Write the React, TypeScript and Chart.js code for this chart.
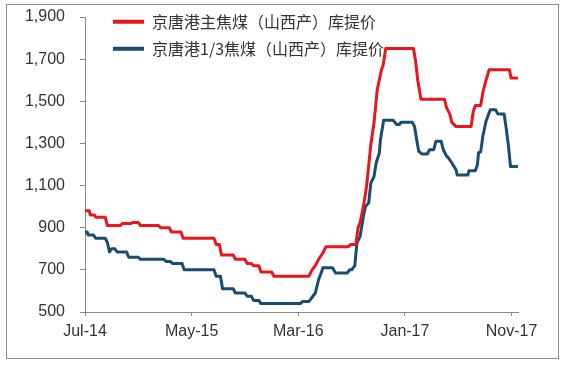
import React, { useEffect, useRef } from 'react';
import { Chart, registerables } from 'chart.js';

Chart.register(...registerables);

// x = months since Jul-2014
const seriesNames = ['京唐港主焦煤（山西产）库提价', '京唐港1/3焦煤（山西产）库提价'];

const redMonths = [0.0, 0.4, 0.5, 0.9, 1.0, 1.9, 2.1, 3.3, 3.5, 4.3, 4.5, 5.0, 5.2, 6.9, 7.1, 7.9, 8.1, 9.0, 9.2, 12.1, 12.3, 12.6, 12.8, 13.9, 14.1, 15.0, 15.2, 15.6, 15.8, 16.3, 16.5, 17.5, 17.7, 21.0, 21.3, 21.6, 21.9, 22.3, 22.6, 24.7, 24.9, 25.4, 25.6, 25.8, 26.1, 26.4, 26.8, 27.1, 27.4, 27.8, 27.95, 28.2, 30.8, 31.0, 31.2, 31.5, 33.7, 33.9, 34.2, 34.4, 34.8, 36.2, 36.4, 36.6, 37.1, 37.3, 37.6, 37.9, 39.8, 39.95, 40.5];
const redValues = [980, 980, 960, 960, 950, 950, 910, 910, 920, 920, 925, 925, 910, 910, 900, 900, 880, 880, 850, 850, 820, 820, 770, 770, 750, 750, 730, 730, 720, 720, 690, 690, 670, 670, 700, 720, 750, 780, 810, 810, 820, 820, 900, 925, 1000, 1096, 1294, 1398, 1555, 1650, 1670, 1750, 1750, 1690, 1600, 1510, 1510, 1470, 1440, 1400, 1380, 1380, 1450, 1480, 1480, 1540, 1600, 1650, 1650, 1610, 1610];

const blueMonths = [0.0, 0.2, 0.3, 0.8, 1.0, 1.9, 2.1, 2.3, 2.5, 2.8, 3.0, 3.9, 4.1, 5.0, 5.2, 7.4, 7.6, 8.0, 8.2, 9.1, 9.3, 12.1, 12.3, 12.7, 12.9, 13.9, 14.1, 15.0, 15.2, 15.6, 15.8, 16.3, 16.5, 20.2, 20.4, 21.0, 21.3, 21.6, 21.9, 22.2, 22.3, 23.2, 23.5, 24.6, 24.8, 25.0, 25.3, 25.5, 25.8, 26.1, 26.3, 26.6, 26.8, 27.1, 27.3, 27.6, 27.7, 28.0, 28.9, 29.2, 29.5, 29.6, 30.7, 30.9, 31.1, 31.3, 31.6, 32.1, 32.3, 32.7, 32.9, 33.4, 33.6, 33.9, 34.1, 34.4, 34.8, 34.9, 35.9, 36.0, 36.6, 36.8, 36.9, 37.1, 37.3, 37.6, 38.0, 38.5, 38.7, 39.3, 39.5, 39.7, 39.9, 40.5];
const blueValues = [880, 880, 865, 865, 850, 850, 830, 785, 800, 800, 785, 785, 760, 760, 750, 750, 740, 740, 730, 730, 700, 700, 670, 670, 610, 610, 590, 590, 575, 575, 555, 555, 540, 540, 550, 550, 570, 591, 653, 693, 710, 710, 685, 685, 700, 700, 720, 829, 859, 954, 1000, 1018, 1112, 1143, 1207, 1255, 1318, 1410, 1410, 1390, 1390, 1400, 1400, 1380, 1318, 1262, 1250, 1250, 1270, 1270, 1310, 1310, 1270, 1240, 1230, 1207, 1174, 1150, 1150, 1170, 1170, 1200, 1256, 1260, 1333, 1405, 1460, 1460, 1440, 1440, 1370, 1290, 1190, 1190];

const xTickMonths = [0, 10, 20, 30, 40];
const xTickLabels = ['Jul-14', 'May-15', 'Mar-16', 'Jan-17', 'Nov-17'];

const RED = '#e8161d';
const BLUE = '#1a4c70';
const AXIS = '#8a8a8a';
const TEXT = '#333333';

const legendPlacer = {
  id: 'legendPlacer',
  afterLayout(chart: any) {
    const lg = chart.legend;
    if (!lg) return;
    const ca = chart.chartArea;
    const w = 430;
    const h = 90;
    lg.left = ca.left + 17;
    lg.top = 2.7;
    lg.right = lg.left + w;
    lg.bottom = lg.top + h;
    lg.width = w;
    lg.height = h;
  },
};

export default function App() {
  const ref = useRef<HTMLCanvasElement>(null);

  useEffect(() => {
    if (!ref.current) return;
    const toPts = (xs: number[], ys: number[]) => xs.map((x, i) => ({ x, y: ys[i] }));
    const chart = new Chart(ref.current, {
      type: 'line',
      data: {
        datasets: [
          {
            label: seriesNames[0],
            data: toPts(redMonths, redValues),
            borderColor: RED,
            backgroundColor: RED,
            borderWidth: 3,
            pointRadius: 0,
            tension: 0,
            borderJoinStyle: 'round',
            borderCapStyle: 'round',
          },
          {
            label: seriesNames[1],
            data: toPts(blueMonths, blueValues),
            borderColor: BLUE,
            backgroundColor: BLUE,
            borderWidth: 3,
            pointRadius: 0,
            tension: 0,
            borderJoinStyle: 'round',
            borderCapStyle: 'round',
          },
        ],
      },
      options: {
        animation: false,
        responsive: false,
        maintainAspectRatio: false,
        layout: { padding: { top: 17, right: 45, bottom: 0, left: 0 } },
        plugins: {
          tooltip: { enabled: false },
          legend: {
            position: 'chartArea',
            align: 'start',
            labels: {
              boxWidth: 31,
              boxHeight: 4,
              padding: 11,
              color: TEXT,
              font: { family: '"Noto Sans CJK SC", sans-serif', size: 16 },
              generateLabels: (c: any) =>
                (Chart.defaults.plugins.legend.labels.generateLabels as any)(c).map((l: any) => ({
                  ...l,
                  lineWidth: 0,
                })),
            },
          },
        },
        scales: {
          x: {
            type: 'linear',
            min: 0,
            max: 40.6,
            afterFit: (s: any) => {
              s.height = 54;
            },
            afterBuildTicks: (s: any) => {
              s.ticks = xTickMonths.map((v) => ({ value: v }));
            },
            grid: { drawOnChartArea: false, drawTicks: true, tickLength: 4, color: AXIS },
            border: { display: true, color: AXIS, width: 1 },
            ticks: {
              autoSkip: false,
              maxRotation: 0,
              padding: 6,
              color: TEXT,
              font: { family: '"Liberation Sans", Arial, sans-serif', size: 16 },
              callback: (v: any) => {
                const i = xTickMonths.indexOf(Number(v));
                return i >= 0 ? xTickLabels[i] : '';
              },
            },
          },
          y: {
            type: 'linear',
            min: 500,
            max: 1900,
            afterFit: (s: any) => {
              s.width = 85;
              s.paddingTop = 0;
              s.paddingBottom = 0;
            },
            grid: { drawOnChartArea: false, drawTicks: true, tickLength: 5, color: AXIS },
            border: { display: true, color: AXIS, width: 1 },
            ticks: {
              stepSize: 200,
              padding: 15,
              color: TEXT,
              font: { family: '"Liberation Sans", Arial, sans-serif', size: 16 },
              callback: (v: any) => Number(v).toLocaleString('en-US'),
            },
          },
        },
      },
      plugins: [legendPlacer],
    } as any);
    return () => chart.destroy();
  }, []);

  return (
    <div style={{ position: 'absolute', left: 0, top: 0, width: 563, height: 366, background: '#fff' }}>
      <canvas ref={ref} width={563} height={366} style={{ position: 'absolute', left: 0, top: 0 }} />
      <div
        style={{
          position: 'absolute',
          left: 6,
          top: 4,
          width: 553,
          height: 355,
          border: '1px solid #8c8c8c',
          boxSizing: 'border-box',
          pointerEvents: 'none',
        }}
      />
    </div>
  );
}
